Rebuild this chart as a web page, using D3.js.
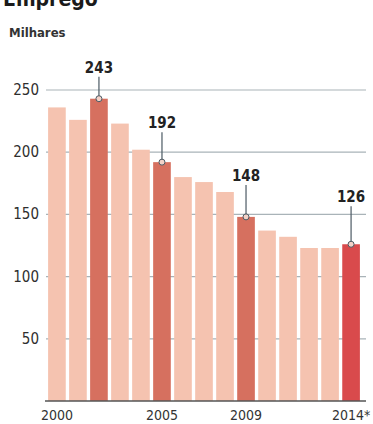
<!DOCTYPE html>
<html>
<head>
<meta charset="utf-8">
<script src="https://cdn.jsdelivr.net/npm/d3@7"></script>
<style>
  body { margin: 0; background: #fff; }
  text { font-family: "DejaVu Sans Condensed", "Liberation Sans Narrow", sans-serif; }
</style>
</head>
<body>
<div id="chart"></div>
<script>
// chart data
const years = [2000, 2001, 2002, 2003, 2004, 2005, 2006, 2007, 2008, 2009, 2010, 2011, 2012, 2013, 2014];
const values = [236, 226, 243, 223, 202, 192, 180, 176, 168, 148, 137, 132, 123, 123, 126];
const highlighted = [2002, 2005, 2009, 2014];
const yTicks = [50, 100, 150, 200, 250];
const xLabels = ["2000", "2005", "2009", "2014*"];
const xLabelYears = [2000, 2005, 2009, 2014];
// leader length (px) above each highlighted bar
const leaderLen = [22, 30, 32, 38];

const data = years.map((y, i) => ({ year: y, value: values[i] }));

const W = 373, H = 424;
const margin = { top: 0, right: 8, bottom: 23, left: 46 };

const svg = d3.select("#chart").append("svg")
    .attr("width", W)
    .attr("height", H);

// title (cut off by the top edge, as in the print) and unit
svg.append("text")
    .attr("x", 3)
    .attr("y", 6)
    .attr("font-size", 21)
    .attr("font-weight", "bold")
    .attr("fill", "#1a1a1a")
    .text("Emprego");

svg.append("text")
    .attr("x", 9)
    .attr("y", 37)
    .attr("font-size", 13)
    .attr("font-weight", "bold")
    .attr("fill", "#333")
    .text("Milhares");

const x = d3.scaleBand()
    .domain(years)
    .range([margin.left, 362])
    .paddingInner(0.16)
    .paddingOuter(0.1);

const y = d3.scaleLinear()
    .domain([0, 250])
    .range([401, 90]);

// gridlines
svg.append("g")
    .selectAll("line")
    .data(yTicks)
    .enter().append("line")
    .attr("x1", margin.left)
    .attr("x2", 366)
    .attr("y1", d => y(d))
    .attr("y2", d => y(d))
    .attr("stroke", "#a9b3b8")
    .attr("stroke-width", 1.2);

// y labels
svg.append("g")
    .selectAll("text")
    .data(yTicks)
    .enter().append("text")
    .attr("x", 39)
    .attr("y", d => y(d) + 5)
    .attr("text-anchor", "end")
    .attr("font-size", 15)
    .attr("fill", "#2e2e2e")
    .text(d => d);

// bars
svg.append("g")
    .selectAll("rect")
    .data(data)
    .enter().append("rect")
    .attr("x", d => x(d.year))
    .attr("width", x.bandwidth())
    .attr("y", d => y(d.value))
    .attr("height", d => y(0) - y(d.value))
    .attr("fill", d => d.year === 2014 ? "#d94a4c" : (highlighted.includes(d.year) ? "#d6705f" : "#f5c3b0"));

// baseline
svg.append("line")
    .attr("x1", margin.left - 1)
    .attr("x2", 366)
    .attr("y1", y(0))
    .attr("y2", y(0))
    .attr("stroke", "#555")
    .attr("stroke-width", 1.5);

// callouts
const callouts = data.filter(d => highlighted.includes(d.year));
const cg = svg.append("g");

cg.selectAll("line")
    .data(callouts)
    .enter().append("line")
    .attr("x1", d => x(d.year) + x.bandwidth() / 2)
    .attr("x2", d => x(d.year) + x.bandwidth() / 2)
    .attr("y1", d => y(d.value))
    .attr("y2", (d, i) => y(d.value) - leaderLen[i])
    .attr("stroke", "#4c5a64")
    .attr("stroke-width", 1.2);

cg.selectAll("circle")
    .data(callouts)
    .enter().append("circle")
    .attr("cx", d => x(d.year) + x.bandwidth() / 2)
    .attr("cy", d => y(d.value))
    .attr("r", 3)
    .attr("fill", "#f3d2c8")
    .attr("stroke", "#4c5a64")
    .attr("stroke-width", 1);

cg.selectAll("text")
    .data(callouts)
    .enter().append("text")
    .attr("x", d => x(d.year) + x.bandwidth() / 2)
    .attr("y", (d, i) => y(d.value) - leaderLen[i] - 4)
    .attr("text-anchor", "middle")
    .attr("font-size", 15)
    .attr("font-weight", "bold")
    .attr("fill", "#222")
    .text(d => d.value);

// x labels
svg.append("g")
    .selectAll("text")
    .data(xLabelYears)
    .enter().append("text")
    .attr("x", d => x(d) + x.bandwidth() / 2)
    .attr("y", 420)
    .attr("text-anchor", "middle")
    .attr("font-size", 14)
    .attr("fill", "#333")
    .text((d, i) => xLabels[i]);
</script>
</body>
</html>
